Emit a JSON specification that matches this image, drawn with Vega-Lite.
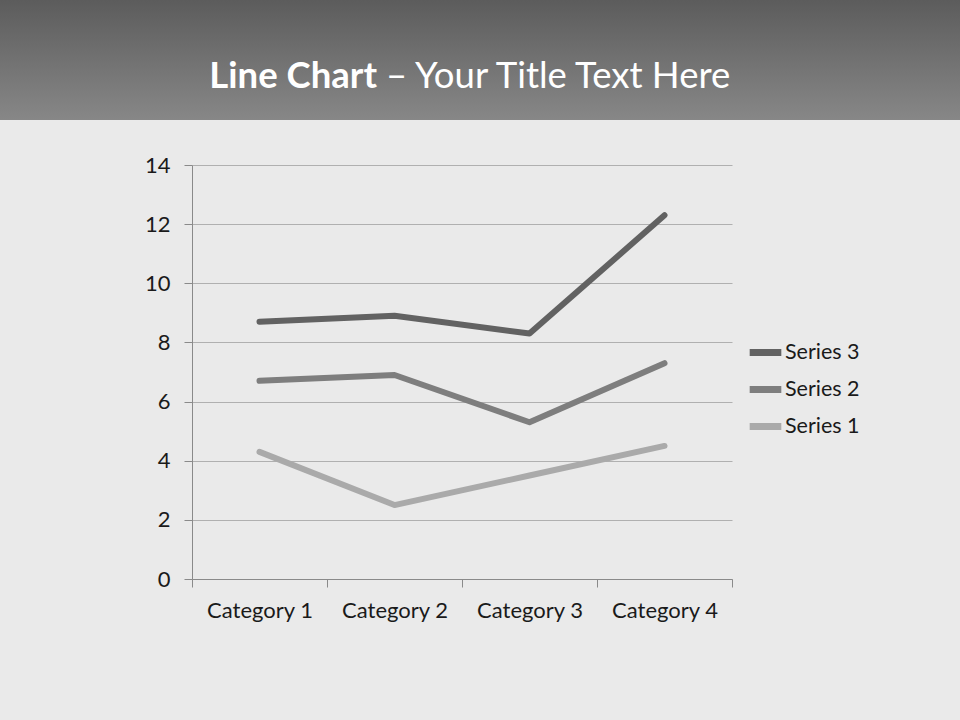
{
  "$schema": "https://vega.github.io/schema/vega-lite/v6.json",
  "background": "#eaeaea",
  "padding": 0,
  "spacing": 45,
  "bounds": "flush",
  "config": {"font": "Lato", "view": {"stroke": null}},
  "vconcat": [
    {
      "width": 960,
      "height": 120,
      "data": {"values": [{"a": "Line Chart", "b": "– Your Title Text Here"}]},
      "layer": [
        {
          "mark": {
            "type": "rect",
            "color": {
              "gradient": "linear", "x1": 0, "y1": 0, "x2": 0, "y2": 1,
              "stops": [{"offset": 0, "color": "#5c5c5c"}, {"offset": 1, "color": "#878787"}]
            }
          },
          "encoding": {}
        },
        {
          "mark": {"type": "text", "align": "right", "baseline": "middle", "dx": -103, "dy": 17, "fontSize": 36.5, "fontWeight": "bold", "color": "#ffffff"},
          "encoding": {"text": {"field": "a"}}
        },
        {
          "mark": {"type": "text", "align": "left", "baseline": "middle", "dx": -94, "dy": 17, "fontSize": 36.5, "fontWeight": "normal", "color": "#ffffff"},
          "encoding": {"text": {"field": "b"}}
        }
      ]
    },
    {
      "bounds": "flush",
      "spacing": 0,
      "hconcat": [
        {
          "width": 192,
          "height": 414,
          "data": {"values": [{"t": ""}]},
          "mark": {"type": "text", "opacity": 0},
          "encoding": {"text": {"field": "t"}}
        },
        {
          "width": 540,
          "height": 414,
          "data": {
            "values": [
              {"category": "Category 1", "series": "Series 1", "value": 4.3},
              {"category": "Category 2", "series": "Series 1", "value": 2.5},
              {"category": "Category 3", "series": "Series 1", "value": 3.5},
              {"category": "Category 4", "series": "Series 1", "value": 4.5},
              {"category": "Category 1", "series": "Series 2", "value": 6.7},
              {"category": "Category 2", "series": "Series 2", "value": 6.9},
              {"category": "Category 3", "series": "Series 2", "value": 5.3},
              {"category": "Category 4", "series": "Series 2", "value": 7.3},
              {"category": "Category 1", "series": "Series 3", "value": 8.7},
              {"category": "Category 2", "series": "Series 3", "value": 8.9},
              {"category": "Category 3", "series": "Series 3", "value": 8.3},
              {"category": "Category 4", "series": "Series 3", "value": 12.3}
            ]
          },
          "mark": {"type": "line", "strokeWidth": 6, "strokeJoin": "round", "strokeCap": "round"},
          "encoding": {
            "x": {
              "field": "category", "type": "nominal", "bandPosition": 0.5,
              "scale": {"type": "band", "paddingInner": 0, "paddingOuter": 0},
              "axis": {
                "title": null, "labelAngle": 0, "tickBand": "extent", "domainColor": "#8a8a8a", "tickColor": "#8a8a8a",
                "tickSize": 8, "labelFontSize": 22, "labelColor": "#1a1a1a", "labelPadding": 13, "minExtent": 141, "maxExtent": 141
              }
            },
            "y": {
              "field": "value", "type": "quantitative",
              "scale": {"domain": [0, 14], "nice": false},
              "axis": {
                "title": null, "values": [0, 2, 4, 6, 8, 10, 12, 14], "domainColor": "#8a8a8a", "tickColor": "#8a8a8a",
                "gridColor": "#b0b0b0", "tickSize": 8, "labelFontSize": 22, "labelColor": "#1a1a1a", "labelPadding": 14,
                "minExtent": 192, "maxExtent": 192
              }
            },
            "color": {
              "field": "series", "type": "nominal",
              "scale": {"domain": ["Series 3", "Series 2", "Series 1"], "range": ["#626262", "#7e7e7e", "#aaaaaa"]},
              "legend": {
                "title": null, "orient": "none", "legendX": 746, "legendY": 333, "padding": 0,
                "symbolType": "stroke", "symbolStrokeWidth": 7, "symbolSize": 1000,
                "labelFontSize": 21.5, "labelColor": "#1a1a1a", "labelOffset": 0, "rowPadding": 3
              }
            }
          }
        }
      ]
    }
  ]
}
